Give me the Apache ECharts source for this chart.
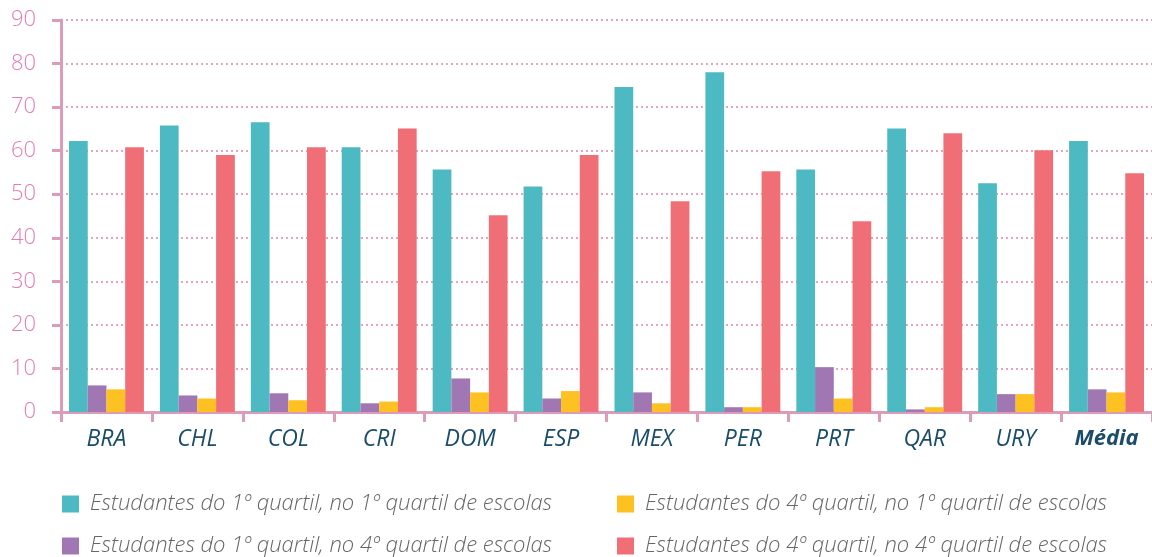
<!DOCTYPE html>
<html><head><meta charset="utf-8">
<script src="https://cdn.jsdelivr.net/npm/echarts@6/dist/echarts.min.js"></script>
<style>html,body{margin:0;padding:0;background:#fff}#c{width:1152px;height:557px}</style>
</head><body><div id="c"></div>
<script>
const categories = ['BRA','CHL','COL','CRI','DOM','ESP','MEX','PER','PRT','QAR','URY','Média'];
const seriesNames = [
  'Estudantes do 1º quartil, no 1º quartil de escolas',
  'Estudantes do 1º quartil, no 4º quartil de escolas',
  'Estudantes do 4º quartil, no 1º quartil de escolas',
  'Estudantes do 4º quartil, no 4º quartil de escolas'
];
const q1InQ1 = [62.2, 65.8, 66.5, 60.8, 55.7, 51.8, 74.6, 78.0, 55.7, 65.1, 52.5, 62.2];
const q1InQ4 = [6.1, 3.8, 4.3, 2.0, 7.7, 3.1, 4.5, 1.1, 10.3, 0.6, 4.1, 5.2];
const q4InQ1 = [5.2, 3.1, 2.7, 2.4, 4.5, 4.8, 2.0, 1.1, 3.1, 1.1, 4.1, 4.5];
const q4InQ4 = [60.8, 59.0, 60.8, 65.1, 45.2, 59.0, 48.4, 55.3, 43.8, 64.0, 60.1, 54.8];
const yTicks = [0, 90, 10];

const colors = ['#4DB9C2', '#A077B3', '#FDC122', '#F06F77'];
const axisPink = '#DB9CB9';
const font = '"Open Sans", sans-serif';

const chart = echarts.init(document.getElementById('c'), null, {renderer: 'canvas'});
const legendText = {fontFamily: font, fontStyle: 'italic', fontWeight: 300, fontSize: 22, color: '#666', padding: [0, 0, 0, 6]};
const legendPos = [[62, 493], [62, 535], [617, 493], [617, 535]];
chart.setOption({
  animation: false,
  color: colors,
  grid: {left: 61, right: 0, top: 20, bottom: 145, containLabel: false},
  legend: seriesNames.map((n, i) => ({
    data: [n], left: legendPos[i][0], top: legendPos[i][1], itemWidth: 17, itemHeight: 17,
    itemGap: 10, icon: 'rect', textStyle: legendText, padding: 0
  })),
  xAxis: {
    type: 'category', data: categories,
    axisLine: {lineStyle: {color: axisPink, width: 3}},
    axisTick: {show: true, length: 10, lineStyle: {color: axisPink, width: 3}},
    axisLabel: {
      interval: 0, margin: 16, fontFamily: font, fontStyle: 'italic', fontSize: 23, color: '#1B4D6A',
      formatter: v => v === 'Média' ? '{b|' + v + '}' : v,
      rich: {b: {fontFamily: font, fontStyle: 'italic', fontWeight: 'bold', fontSize: 22, color: '#1B4D6A'}}
    }
  },
  yAxis: {
    type: 'value', min: yTicks[0], max: yTicks[1], interval: yTicks[2],
    axisLine: {show: true, lineStyle: {color: axisPink, width: 3}},
    axisTick: {show: true, length: 9, lineStyle: {color: axisPink, width: 3}},
    axisLabel: {margin: 25, fontFamily: font, fontWeight: 300, fontSize: 22, color: '#E07FB2'},
    splitLine: {show: true, lineStyle: {color: '#E3A3BF', width: 2, type: [2, 3]}}
  },
  series: [
    {name: seriesNames[0], type: 'bar', data: q1InQ1, barGap: '0%', barCategoryGap: '17.6%'},
    {name: seriesNames[1], type: 'bar', data: q1InQ4},
    {name: seriesNames[2], type: 'bar', data: q4InQ1},
    {name: seriesNames[3], type: 'bar', data: q4InQ4}
  ]
});
</script></body></html>
